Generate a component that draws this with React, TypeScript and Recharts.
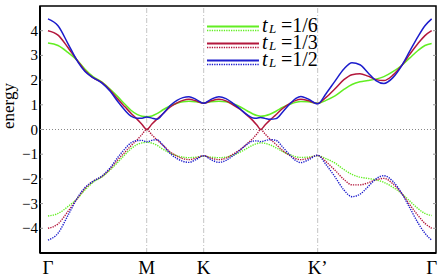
import { Legend, Line, LineChart, ReferenceArea, ReferenceLine, XAxis, YAxis } from "recharts";

// path coordinate: Γ=0, M=0.866, K=1.366, M'=1.866, K'=2.366, Γ=3.366
const kPath = [
  0, 0.088, 0.175, 0.263, 0.325, 0.395, 0.474, 0.544, 0.614, 0.675, 0.728, 0.781, 0.825, 0.866,
  0.912, 0.956, 1.009, 1.07, 1.132, 1.184, 1.237, 1.298, 1.366,
  1.43, 1.5, 1.561, 1.623, 1.684, 1.746, 1.798, 1.833, 1.866,
  1.904, 1.947, 2.0, 2.061, 2.123, 2.175, 2.219, 2.281, 2.366,
  2.439, 2.518, 2.596, 2.667, 2.737, 2.807, 2.877, 2.947, 3.026, 3.105, 3.175, 3.246, 3.307, 3.366,
];

const upper16 = [
  3.5, 3.4, 3.12, 2.77, 2.44, 2.14, 1.92, 1.64, 1.32, 1.02, 0.78, 0.61, 0.54, 0.52,
  0.55, 0.64, 0.8, 0.95, 1.06, 1.12, 1.14, 1.12, 1.08,
  1.12, 1.14, 1.12, 1.04, 0.92, 0.76, 0.63, 0.57, 0.54,
  0.56, 0.62, 0.74, 0.9, 1.02, 1.1, 1.13, 1.12, 1.06,
  1.18, 1.36, 1.62, 1.82, 1.93, 1.98, 2.04, 2.14, 2.34, 2.6, 2.9, 3.2, 3.4, 3.48,
];
const upper13 = [
  4.0, 3.82, 3.32, 2.76, 2.38, 2.1, 1.9, 1.6, 1.22, 0.92, 0.66, 0.42, 0.2, 0.0,
  0.22, 0.42, 0.64, 0.9, 1.08, 1.18, 1.22, 1.16, 1.06,
  1.16, 1.22, 1.16, 1.0, 0.82, 0.58, 0.36, 0.18, 0.0,
  0.18, 0.38, 0.6, 0.86, 1.06, 1.18, 1.22, 1.17, 1.05,
  1.3, 1.65, 2.02, 2.22, 2.26, 2.16, 2.02, 1.98, 2.2, 2.6, 3.05, 3.48, 3.8, 4.0,
];
const upper12 = [
  4.48, 4.2, 3.48, 2.73, 2.35, 2.1, 1.88, 1.56, 1.12, 0.78, 0.54, 0.46, 0.46, 0.51,
  0.46, 0.42, 0.64, 0.96, 1.18, 1.29, 1.33, 1.22, 1.06,
  1.22, 1.33, 1.25, 1.06, 0.84, 0.6, 0.47, 0.46, 0.49,
  0.45, 0.41, 0.44, 0.72, 1.04, 1.26, 1.34, 1.24, 1.04,
  1.45, 1.96, 2.45, 2.7, 2.62, 2.3, 1.98, 1.86, 2.1, 2.6, 3.18, 3.76, 4.2, 4.48,
];

const lower16 = [
  -3.5, -3.4, -3.12, -2.77, -2.44, -2.14, -1.92, -1.64, -1.32, -1.02, -0.78, -0.61, -0.54, -0.52,
  -0.55, -0.64, -0.8, -0.95, -1.06, -1.12, -1.14, -1.12, -1.08,
  -1.12, -1.14, -1.12, -1.04, -0.92, -0.76, -0.63, -0.57, -0.54,
  -0.56, -0.62, -0.74, -0.9, -1.02, -1.1, -1.13, -1.12, -1.06,
  -1.18, -1.36, -1.62, -1.82, -1.93, -1.98, -2.04, -2.14, -2.34, -2.6, -2.9, -3.2, -3.4, -3.48,
];
const lower13 = [
  -4.0, -3.82, -3.32, -2.76, -2.38, -2.1, -1.9, -1.6, -1.22, -0.92, -0.66, -0.42, -0.2, 0.0,
  -0.22, -0.42, -0.64, -0.9, -1.08, -1.18, -1.22, -1.16, -1.06,
  -1.16, -1.22, -1.16, -1.0, -0.82, -0.58, -0.36, -0.18, 0.0,
  -0.18, -0.38, -0.6, -0.86, -1.06, -1.18, -1.22, -1.17, -1.05,
  -1.3, -1.65, -2.02, -2.24, -2.24, -2.16, -2.04, -1.98, -2.2, -2.6, -3.05, -3.48, -3.8, -4.0,
];
const lower12 = [
  -4.48, -4.2, -3.48, -2.73, -2.35, -2.1, -1.88, -1.56, -1.12, -0.78, -0.54, -0.45, -0.44, -0.5,
  -0.44, -0.41, -0.64, -0.96, -1.18, -1.29, -1.33, -1.22, -1.06,
  -1.22, -1.33, -1.25, -1.06, -0.84, -0.6, -0.47, -0.46, -0.49,
  -0.45, -0.41, -0.44, -0.72, -1.04, -1.26, -1.34, -1.24, -1.04,
  -1.42, -1.92, -2.45, -2.72, -2.62, -2.32, -2.0, -1.87, -2.1, -2.6, -3.18, -3.78, -4.2, -4.48,
];

const symTicks = [0, 0.866, 1.366, 2.366, 3.366];
const symLabels = ["Γ", "M", "K", "K’", "Γ"];
const energyTicks = [-4, -3, -2, -1, 0, 1, 2, 3, 4];
const legendLabels = ["1/6", "1/3", "1/2"];

const GREEN = "#62ee22";
const RED = "#b3173c";
const BLUE = "#1c1ccc";
const SERIF = "'Liberation Serif', 'DejaVu Serif', serif";
const X_DOMAIN: [number, number] = [-0.07, 3.404];
const Y_DOMAIN: [number, number] = [-5, 5];

const rows = kPath.map((k, i) => ({
  k,
  u1: upper16[i],
  u2: upper13[i],
  u3: upper12[i],
  l1: lower16[i],
  l2: lower13[i],
  l3: lower12[i],
}));

// label on the left, short inward tick mark at both frame edges
const LeftTick = (p: any) => (
  <g>
    <line x1={p.x + 2} x2={p.x + 5} y1={p.y} y2={p.y} stroke="#999" />
    <line x1={p.x + 395} x2={p.x + 398} y1={p.y} y2={p.y} stroke="#999" />
    <text x={p.x} y={p.y} dy={5} textAnchor="end" fontSize={15} fontFamily={SERIF} fill="#000">
      {p.payload.value < 0 ? "−" + Math.abs(p.payload.value) : p.payload.value}
    </text>
  </g>
);

const BottomTick = (p: any) => (
  <text x={p.x} y={p.y} dy={21} textAnchor="middle" fontSize={19} fontFamily={SERIF} fill="#000">
    {symLabels[p.index]}
  </text>
);

const LegendBox = () => {
  const cols = [GREEN, RED, BLUE];
  return (
    <svg width={125} height={60}>
      {cols.map((c, i) => (
        <g key={i}>
          <line x1={7} x2={59} y1={11.5 + i * 17} y2={11.5 + i * 17} stroke={c} strokeWidth={1.8} />
          <line x1={7} x2={59} y1={15.5 + i * 17} y2={15.5 + i * 17} stroke={c} strokeWidth={1.4} strokeDasharray="1.3 1.1" />
          <text y={17 + i * 17} fontFamily={SERIF} fontSize={20} fill="#000">
            <tspan x={62} fontStyle="italic">t</tspan>
            <tspan x={69} dy={1} fontStyle="italic" fontSize={13}>L</tspan>
            <tspan x={81} dy={-1}>=1/{legendLabels[i].slice(2)}</tspan>
          </text>
        </g>
      ))}
    </svg>
  );
};

export default function App() {
  return (
    <div style={{ position: "absolute", left: 0, top: 0, background: "#fff" }}>
      <LineChart width={447} height={278} data={rows} margin={{ top: 6, right: 11, bottom: 0, left: 0 }}>
        <XAxis
          dataKey="k"
          type="number"
          domain={X_DOMAIN}
          ticks={symTicks}
          height={25}
          tickSize={0}
          tickMargin={0}
          tickLine={false}
          axisLine={false}
          tick={<BottomTick />}
          interval={0}
        />
        <YAxis
          type="number"
          domain={Y_DOMAIN}
          ticks={energyTicks}
          width={40}
          tickSize={0}
          tickMargin={2}
          tickLine={false}
          interval={0}
          axisLine={false}
          tick={<LeftTick />}
          label={{
            content: () => (
              <text x={13.5} y={106} transform="rotate(-90 13.5 106)" textAnchor="middle" fontSize={17} fontFamily={SERIF} fill="#000">
                energy
              </text>
            ),
          }}
        />
        {symTicks.slice(1, 4).map((t) => (
          <ReferenceLine key={t} x={t} stroke="#c4c4c4" strokeDasharray="5 2 1 2" />
        ))}
        <ReferenceLine y={0} stroke="#888" strokeDasharray="1 2" />
        <Legend
          layout="vertical"
          align="center"
          verticalAlign="middle"
          wrapperStyle={{ position: "absolute", left: 200, top: 15, width: 125, height: 60 }}
          content={() => <LegendBox />}
        />
        <Line dataKey="u1" type="monotone" stroke={GREEN} strokeWidth={1.5} dot={false} isAnimationActive={false} />
        <Line dataKey="u2" type="monotone" stroke={RED} strokeWidth={1.5} dot={false} isAnimationActive={false} />
        <Line dataKey="u3" type="monotone" stroke={BLUE} strokeWidth={1.5} dot={false} isAnimationActive={false} />
        <Line dataKey="l1" type="monotone" stroke={GREEN} strokeWidth={1.4} strokeDasharray="1.3 1.1" dot={false} isAnimationActive={false} />
        <Line dataKey="l2" type="monotone" stroke={RED} strokeWidth={1.4} strokeDasharray="1.3 1.1" dot={false} isAnimationActive={false} />
        <Line dataKey="l3" type="monotone" stroke={BLUE} strokeWidth={1.4} strokeDasharray="1.3 1.1" dot={false} isAnimationActive={false} />
        {/* plot frame */}
        <ReferenceArea x1={X_DOMAIN[0]} x2={X_DOMAIN[1]} y1={Y_DOMAIN[0]} y2={Y_DOMAIN[1]} fill="none" stroke="#000" strokeWidth={1.5} ifOverflow="visible" />
        <ReferenceLine x={X_DOMAIN[0]} stroke="#000" strokeWidth={2} />
        <ReferenceLine y={Y_DOMAIN[0]} stroke="#000" strokeWidth={2} />
      </LineChart>
    </div>
  );
}
